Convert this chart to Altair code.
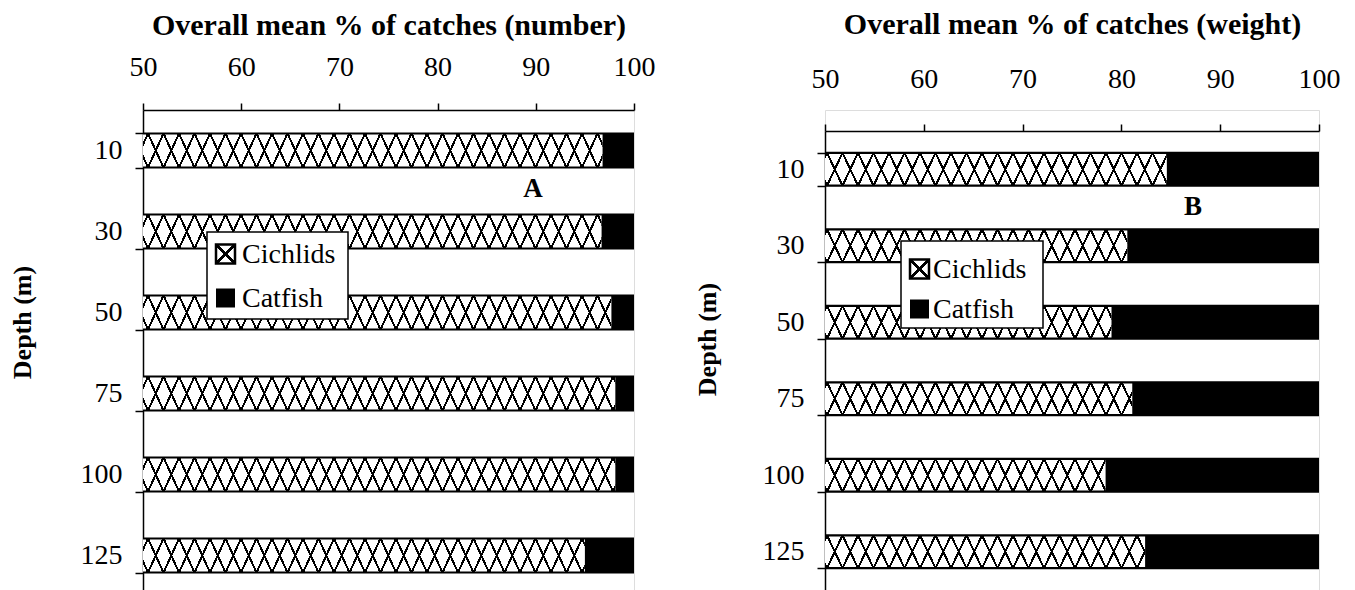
import math
import altair as alt
import pandas as pd

# ---------------- data ----------------
depths = ["10", "30", "50", "75", "100", "125"]
cichlids_number = [96.8, 96.7, 97.7, 98.1, 98.1, 95.0]
catfish_number = [3.2, 3.3, 2.3, 1.9, 1.9, 5.0]
cichlids_weight = [84.6, 80.6, 79.0, 81.1, 78.4, 82.4]
catfish_weight = [15.4, 19.4, 21.0, 18.9, 21.6, 17.6]
x_ticks = [50, 60, 70, 80, 90, 100]
series = ["Cichlids", "Catfish"]

FONT = "Liberation Serif"
LFS = 28      # tick labels / legend
TFS = 30      # axis titles
CLEAR = "rgba(0,0,0,0)"


def hatch_pair(W, H, d=15.5, tp=2.0):
    """Two linear gradients (one per diagonal family) that draw a cross-hatch
    on a rectangle of W x H pixels."""
    m = H / d
    D = H
    span = m * W + H
    t = span / (m * m * W * W + H * H)
    h = tp * math.sqrt(m * m + 1) / 2 / span
    stops = []
    k = 0
    while k * D <= span + D:
        p = k * D / span
        a, b = p - h, p + h
        if b <= 0 or a >= 1:
            k += 1
            continue
        a, b = max(0.0, a), min(1.0, b)
        if a > 0:
            stops.append({"offset": round(a, 6), "color": CLEAR})
        stops.append({"offset": round(a, 6), "color": "black"})
        stops.append({"offset": round(b, 6), "color": "black"})
        if b < 1:
            stops.append({"offset": round(b, 6), "color": CLEAR})
        k += 1
    g1 = {"gradient": "linear", "x1": 0, "y1": 0,
          "x2": t * m * W, "y2": t * H, "stops": stops}
    g2 = {"gradient": "linear", "x1": 0, "y1": 1,
          "x2": t * m * W, "y2": 1 - t * H, "stops": stops}
    return g1, g2


def x_mark_pair():
    st = [{"offset": 0, "color": CLEAR}, {"offset": 0.44, "color": CLEAR},
          {"offset": 0.44, "color": "black"}, {"offset": 0.56, "color": "black"},
          {"offset": 0.56, "color": CLEAR}, {"offset": 1, "color": CLEAR}]
    g1 = {"gradient": "linear", "x1": 0, "y1": 0, "x2": 1, "y2": 1, "stops": st}
    g2 = {"gradient": "linear", "x1": 0, "y1": 1, "x2": 1, "y2": 0, "stops": st}
    return g1, g2


def panel(cich, cat, title, W, Hp, y0, pi, xlab_pad, xtitle_pad, ytitle_x, ytitle_y,
          box, sym_x, sym_ys, text_x, letter, letter_xy):
    df = pd.DataFrame({"depth": depths, "cichlids": cich, "catfish": cat})
    df["base"] = 0.0
    df["total"] = df["cichlids"] + df["catfish"]

    xs = alt.Scale(domain=[50, 100], nice=False, zero=False)
    ys = alt.Scale(domain=depths, paddingInner=pi, paddingOuter=pi / 2,
                   range=[y0, Hp])
    xaxis = alt.Axis(orient="top", values=x_ticks, title=title, grid=False,
                     labelFont=FONT, labelFontSize=LFS, labelColor="black",
                     titleFont=FONT, titleFontSize=TFS, titleFontWeight="bold",
                     titleColor="black", labelPadding=xlab_pad, titlePadding=xtitle_pad,
                     domainColor="black", domainWidth=1.5, tickColor="black",
                     tickWidth=1.5, tickSize=7, labelFlush=False, offset=-y0)
    yaxis = alt.Axis(orient="left", title="Depth (m)", grid=False, tickBand="extent",
                     labelFont=FONT, labelFontSize=LFS, labelColor="black",
                     titleFont=FONT, titleFontSize=26, titleFontWeight="bold",
                     titleColor="black", labelPadding=13, titleX=ytitle_x,
                     titleY=ytitle_y, titleAngle=270, titleAlign="center",
                     titleBaseline="middle",
                     domainColor="black", domainWidth=1.5, tickColor="black",
                     tickWidth=1.5, tickSize=8, labelAngle=0)

    ppu = W / 50.0
    step = (Hp - y0) / len(depths)
    bh = step * (1 - pi)

    base = alt.Chart(df)
    X = alt.X("base:Q", scale=xs, axis=xaxis)
    Y = alt.Y("depth:N", scale=ys, axis=yaxis, sort=depths)

    layers = [base.mark_bar(fill="white", clip=True).encode(x=X, x2="cichlids", y=Y)]
    for d, c in zip(depths, cich):
        g1, g2 = hatch_pair(c * ppu, bh)
        for g in (g1, g2):
            layers.append(
                base.transform_filter(alt.datum.depth == d)
                .mark_bar(fill=g, clip=True)
                .encode(x=X, x2="cichlids", y=Y)
            )
    layers.append(base.mark_bar(fill="black", clip=True)
                  .encode(x=alt.X("cichlids:Q", scale=xs, axis=xaxis), x2="total", y=Y))
    layers.append(base.mark_bar(fillOpacity=0, stroke="black", strokeWidth=2.2, clip=True)
                  .encode(x=X, x2="total", y=Y))

    # legend (manual, so the hatch can be shown)
    one = alt.Chart(pd.DataFrame({"series": series}))
    bx0, by0, bx1, by1 = box
    layers.append(one.transform_filter(alt.datum.series == series[0])
                  .mark_rect(fill="white", stroke="black", strokeWidth=1.5)
                  .encode(x=alt.value(bx0), x2=alt.value(bx1),
                          y=alt.value(by0), y2=alt.value(by1)))
    s = 19
    for name, yc in zip(series, sym_ys):
        sel = one.transform_filter(alt.datum.series == name)
        enc = dict(x=alt.value(sym_x), x2=alt.value(sym_x + s),
                   y=alt.value(yc - s / 2), y2=alt.value(yc + s / 2))
        if name == "Cichlids":
            layers.append(sel.mark_rect(fill="white").encode(**enc))
            for g in x_mark_pair():
                layers.append(sel.mark_rect(fill=g).encode(**enc))
            layers.append(sel.mark_rect(fillOpacity=0, stroke="black", strokeWidth=2.5)
                          .encode(**enc))
        else:
            layers.append(sel.mark_rect(fill="black").encode(**enc))
        layers.append(sel.mark_text(font=FONT, fontSize=LFS, align="left",
                                    baseline="middle", color="black")
                      .encode(x=alt.value(text_x), y=alt.value(yc + 1), text="series:N"))

    layers.append(one.transform_filter(alt.datum.series == series[0])
                  .mark_text(text=letter, font=FONT, fontSize=27, fontWeight="bold",
                             align="center", baseline="middle", color="black")
                  .encode(x=alt.value(letter_xy[0]), y=alt.value(letter_xy[1])))

    return alt.layer(*layers).properties(width=W, height=Hp)


# panel A: plot area starts at the top axis; panel B's axis sits 21px lower
A = panel(cichlids_number, catfish_number, "Overall mean % of catches (number)",
          491, 486, 0, 0.58, 22, 13, -121, 212,
          (64, 122, 205, 209), 73, (144, 188), 99, "A", (390, 79))
B = panel(cichlids_weight, catfish_weight, "Overall mean % of catches (weight)",
          494, 480, 21, 0.57, 31, 26, -118, 229,
          (76, 131, 218, 218), 85, (159, 199), 108, "B", (368, 97))

chart = (
    alt.hconcat(A, B, spacing=37)
    .configure_view(strokeWidth=0, stroke="transparent")
    .configure(background="white", padding={"left": 0, "top": 0, "right": 0, "bottom": 0})
)

chart.save("out.html", embed_options={"renderer": "svg", "actions": False})
